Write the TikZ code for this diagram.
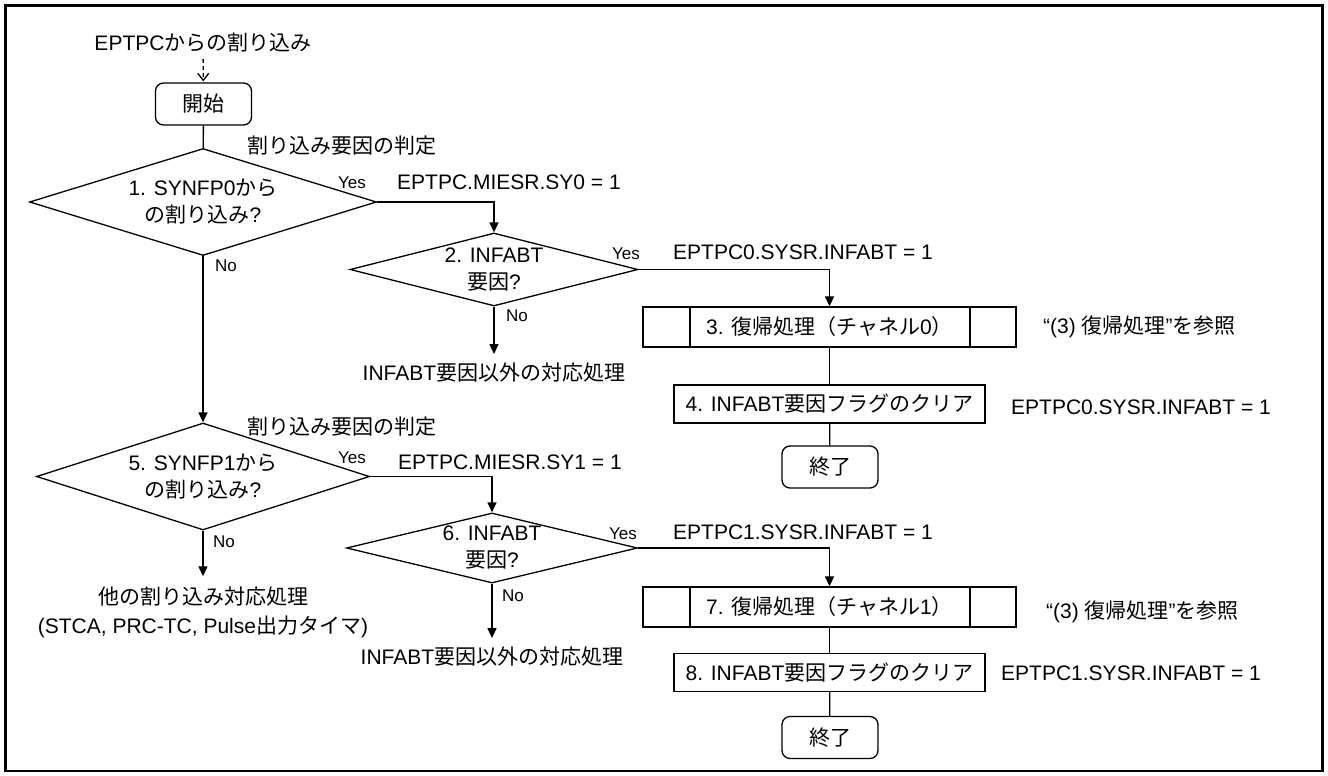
\documentclass[tikz,border=0pt]{standalone}
\usepackage{fontspec}
\setmainfont{Liberation Sans}
\newfontfamily\jp{Noto Sans CJK JP}
\usetikzlibrary{shapes.geometric,arrows.meta}

\begin{document}
\begin{tikzpicture}[x=1pt,y=-1pt,
  txt/.style={inner sep=0pt,align=center,font=\fontsize{21}{27}\selectfont},
  yn/.style={inner sep=0pt,font=\fontsize{17}{20}\selectfont},
  term/.style={draw,line width=1.3pt,rounded corners=8pt,minimum width=96pt,minimum height=42pt,txt},
  dec/.style={draw,line width=1.3pt,diamond,txt},
  proc/.style={draw,line width=1.3pt,minimum width=311pt,minimum height=38pt,txt},
  subproc/.style={draw,line width=1.3pt,minimum width=373pt,minimum height=40pt,txt,
    path picture={
      \draw[line width=1.3pt] ([xshift=47pt]path picture bounding box.north west) -- ([xshift=47pt]path picture bounding box.south west);
      \draw[line width=1.3pt] ([xshift=-46pt]path picture bounding box.north east) -- ([xshift=-46pt]path picture bounding box.south east);}},
  flow/.style={line width=1.3pt,-{Triangle[length=10pt,width=9pt]}},
  link/.style={line width=1.3pt},
  hint/.style={line width=1.3pt,dash pattern=on 4pt off 3pt,-{Straight Barb[length=7pt,width=11pt]}}]
\useasboundingbox (0,0) rectangle (1328,776);
\draw[line width=2.4pt] (5.5,5.5) rectangle (1322.5,771);

\node[txt] (intr) at (203,43) {EPTPC{\jp からの割り込み}};
\node[term] (start) at (203.5,104) {\jp 開始};

% channel 0
\node[txt] (judge0) at (342,146) {\jp 割り込み要因の判定};
\node[dec,aspect=3.25,minimum width=347pt,minimum height=107pt] (syn0) at (203,202) {1. SYNFP0{\jp から}\\{\jp の割り込み}?};
\node[yn] (yes0) at (352,183) {Yes};
\node[txt,anchor=west] (sy0) at (397,182) {EPTPC.MIESR.SY0 = 1};
\node[yn] (no0) at (226,266) {No};
\node[dec,aspect=3.95,minimum width=288pt,minimum height=73pt] (inf0) at (494,269.5) {2. INFABT\\{\jp 要因}?};
\node[yn] (yes1) at (626,254) {Yes};
\node[txt,anchor=west] (flag0) at (673,252) {EPTPC0.SYSR.INFABT = 1};
\node[yn] (no1) at (517,316) {No};
\node[txt] (oth0) at (494,373) {INFABT{\jp 要因以外の対応処理}};
\node[subproc] (rec0) at (829.5,327) {3. {\jp 復帰処理（チャネル}0{\jp ）}};
\node[txt,anchor=west] (ref0) at (1043,327) {“(3) {\jp 復帰処理}”{\jp を参照}};
\node[proc] (clr0) at (829.5,404) {4. INFABT{\jp 要因フラグのクリア}};
\node[txt,anchor=west] (set0) at (1011,407) {EPTPC0.SYSR.INFABT = 1};
\node[term] (end0) at (830,467) {\jp 終了};

% channel 1
\node[txt] (judge1) at (342,427) {\jp 割り込み要因の判定};
\node[dec,aspect=3.1,minimum width=333pt,minimum height=107pt] (syn1) at (203,476.5) {5. SYNFP1{\jp から}\\{\jp の割り込み}?};
\node[yn] (yes5) at (352,458) {Yes};
\node[txt,anchor=west] (sy1) at (398,462) {EPTPC.MIESR.SY1 = 1};
\node[yn] (no5) at (224,542) {No};
\node[txt,font=\fontsize{21}{29}\selectfont] (oth5) at (203,612) {{\jp 他の割り込み対応処理}\\(STCA, PRC-TC, Pulse{\jp 出力タイマ})};
\node[dec,aspect=4.16,minimum width=291pt,minimum height=70pt] (inf1) at (492,548) {6. INFABT\\{\jp 要因}?};
\node[yn] (yes6) at (623,534) {Yes};
\node[txt,anchor=west] (flag1) at (673,532) {EPTPC1.SYSR.INFABT = 1};
\node[yn] (no6) at (513,596) {No};
\node[txt] (oth1) at (492,657) {INFABT{\jp 要因以外の対応処理}};
\node[subproc] (rec1) at (829.5,607) {7. {\jp 復帰処理（チャネル}1{\jp ）}};
\node[txt,anchor=west] (ref1) at (1046,612) {“(3) {\jp 復帰処理}”{\jp を参照}};
\node[proc] (clr1) at (829.5,672.5) {8. INFABT{\jp 要因フラグのクリア}};
\node[txt,anchor=west] (set1) at (1001,673) {EPTPC1.SYSR.INFABT = 1};
\node[term] (end1) at (830,737.5) {\jp 終了};

\draw[hint,shorten <=6pt,shorten >=1pt] (intr) -- (start);
\draw[link] (start) -- (syn0);
\draw[flow] (syn0.east) -| (inf0.north);
\draw[flow] (syn0.south) -- (syn1.north);
\draw[flow,shorten >=9pt] (inf0.south) -- (oth0.north);
\draw[flow] (inf0.east) -| (rec0.north);
\draw[link] (rec0) -- (clr0);
\draw[link] (clr0) -- (end0);

\draw[flow] (syn1.east) -| (inf1.north);
\draw[flow,shorten >=10pt] (syn1.south) -- (oth5.north);
\draw[flow,shorten >=9pt] (inf1.south) -- (oth1.north);
\draw[flow] (inf1.east) -| (rec1.north);
\draw[link] (rec1) -- (clr1);
\draw[link] (clr1) -- (end1);
\end{tikzpicture}
\end{document}
